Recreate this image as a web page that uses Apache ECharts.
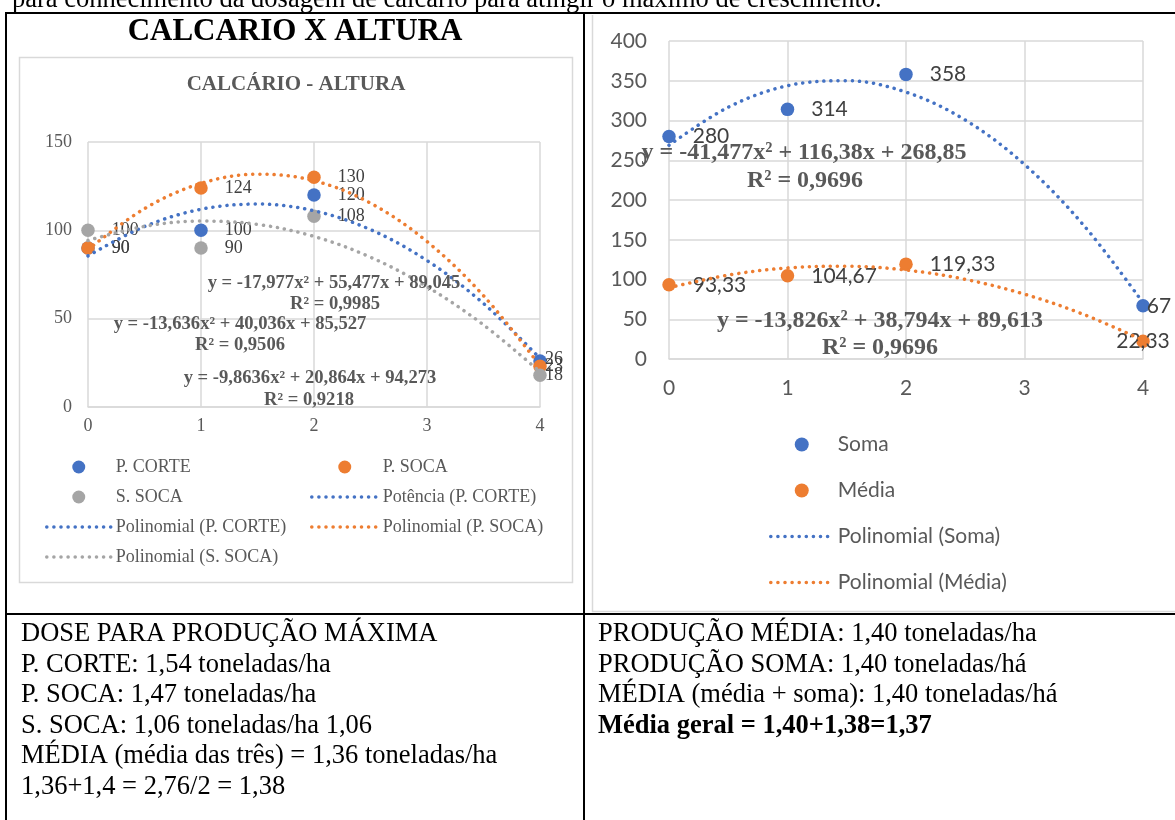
<!DOCTYPE html>
<html><head><meta charset="utf-8">
<script src="https://cdn.jsdelivr.net/npm/echarts@6/dist/echarts.min.js"></script>
<style>html,body{margin:0;padding:0;background:#fff;}#c{width:1175px;height:820px;}</style>
</head><body><div id="c"></div>
<script>
// ---------- data ----------
const doses = [0, 1, 2, 4];
const pCorte = [90, 100, 120, 26];
const pSoca = [90, 124, 130, 23];
const sSoca = [100, 90, 108, 18];
const soma = [280, 314, 358, 67];
const media = [93.33, 104.67, 119.33, 22.33];

// trend-line values read at x = 0, 0.5, ... 4
const trendX = [0, 0.5, 1, 1.5, 2, 2.5, 3, 3.5, 4];
const trendPCorte = [85.53, 102.14, 111.93, 114.90, 111.06, 100.39, 82.91, 58.61, 27.50];
const trendPSoca = [89.05, 112.29, 126.55, 131.81, 128.09, 115.38, 93.68, 63.00, 23.32];
const trendSSoca = [94.27, 102.24, 105.27, 103.38, 96.55, 84.79, 68.09, 46.47, 19.91];
const trendSoma = [268.85, 316.67, 343.75, 350.10, 335.70, 300.57, 244.70, 168.09, 70.74];
const trendMedia = [89.61, 105.55, 114.58, 116.70, 111.90, 100.19, 81.56, 56.02, 23.57];

const xTicks = [0, 1, 2, 3, 4];
const yTicksLeft = [0, 50, 100, 150];
const yTicksRight = [0, 50, 100, 150, 200, 250, 300, 350, 400];

const eqLeft = ['y = -17,977x² + 55,477x + 89,045', 'R² = 0,9985',
                'y = -13,636x² + 40,036x + 85,527', 'R² = 0,9506',
                'y = -9,8636x² + 20,864x + 94,273', 'R² = 0,9218'];
const eqRight = ['y = -41,477x² + 116,38x + 268,85', 'R² = 0,9696',
                 'y = -13,826x² + 38,794x + 89,613', 'R² = 0,9696'];

const topLine = 'para conhecimento da dosagem de calcário para atingir o máximo de crescimento.';
const leftTitle = 'CALCARIO X ALTURA';
const leftSubtitle = 'CALCÁRIO - ALTURA';
const leftNotes = ['DOSE PARA PRODUÇÃO MÁXIMA', 'P. CORTE: 1,54 toneladas/ha', 'P. SOCA: 1,47 toneladas/ha',
  'S. SOCA: 1,06 toneladas/ha 1,06', 'MÉDIA (média das três) = 1,36 toneladas/ha', '1,36+1,4 = 2,76/2 = 1,38'];
const rightNotes = ['PRODUÇÃO MÉDIA: 1,40 toneladas/ha', 'PRODUÇÃO SOMA: 1,40 toneladas/há',
  'MÉDIA (média + soma): 1,40 toneladas/há', 'Média geral = 1,40+1,38=1,37'];

// ---------- style ----------
const BLUE = '#4472C4', ORANGE = '#ED7D31', GRAY = '#A5A5A5';
const SERIF = '"Liberation Serif", "Times New Roman", serif';
const SANS = 'Lato, "Open Sans", sans-serif';
const GRID = '#d9d9d9';

function pts(xs, ys, lastLabel) {
  return xs.map((x, i) => {
    const item = { value: [x, ys[i]] };
    if (lastLabel && i === xs.length - 1) item.label = lastLabel;
    return item;
  });
}
const fmt = p => String(p.value[1]).replace('.', ',');

function scatter(name, xs, ys, color, axis, font, size, lastLabel) {
  return {
    type: 'scatter', name, xAxisIndex: axis, yAxisIndex: axis,
    data: pts(xs, ys, lastLabel), symbolSize: 13.5,
    itemStyle: { color, opacity: 1 },
    label: { show: true, position: 'right', distance: 17, formatter: fmt,
      fontFamily: font, fontSize: size, color: '#404040' },
    z: 3
  };
}
function trend(name, xs, ys, color, axis) {
  return {
    type: 'line', name, xAxisIndex: axis, yAxisIndex: axis,
    data: ys.length ? xs.map((x, i) => [x, ys[i]]) : [],
    smooth: 0.35, symbol: 'none', showSymbol: false,
    lineStyle: { color, width: 3.5, type: [0.1, 7], cap: 'round' },
    itemStyle: { color, opacity: 0 },
    z: 4, silent: true
  };
}

const axisLblL = { fontFamily: SERIF, fontSize: 18, color: '#595959' };
const axisLblR = { fontFamily: SANS, fontSize: 21, color: '#595959' };
const legendLine = { width: 3.5, cap: 'round', type: [0.1, 7] };

const graphics = [];
function txt(text, x, y, font, size, weight, color, align) {
  graphics.push({ type: 'text', x, y, z: 10,
    style: { text, fontFamily: font, fontSize: size, fontWeight: weight, fill: color,
      align: align || 'left', verticalAlign: 'middle' } });
}
function line(x1, y1, x2, y2, color, w) {
  graphics.push({ type: 'line', z: 1, silent: true,
    shape: { x1, y1, x2, y2 }, style: { stroke: color, lineWidth: w } });
}

// document text
txt(topLine, 12, 0.5, SERIF, 26.5, 'normal', '#000');
// table borders
line(5, 13, 1175, 13, '#000', 2);
line(6, 12, 6, 820, '#000', 2);
line(584, 12, 584, 820, '#000', 2);
line(5, 614, 1175, 614, '#000', 2);
// chart boxes
graphics.push({ type: 'rect', z: 0, silent: true, shape: { x: 19.5, y: 57.5, width: 553, height: 525 },
  style: { fill: 'none', stroke: GRID, lineWidth: 1.5 } });
line(592.5, 15, 592.5, 612, GRID, 1.5);
line(592, 611.5, 1175, 611.5, GRID, 1.5);
// titles
txt(leftTitle, 295, 32, SERIF, 31, 'bold', '#000', 'center');
txt(leftSubtitle, 296, 85, SERIF, 21, 'bold', '#595959', 'center');
// equations
const eqLPos = [[334, 283], [335, 304], [240, 324], [240, 345], [310, 378], [309, 400]];
eqLeft.forEach((t, i) => txt(t, eqLPos[i][0], eqLPos[i][1], SERIF, 18.6, 'bold', '#595959', 'center'));
const eqRPos = [[804, 153], [805, 181], [880, 321], [880, 348]];
eqRight.forEach((t, i) => txt(t, eqRPos[i][0], eqRPos[i][1], SERIF, 24, 'bold', '#595959', 'center'));
// notes
leftNotes.forEach((t, i) => txt(t, 21, 634 + i * 30.6, SERIF, 26.5, 'normal', '#000'));
rightNotes.forEach((t, i) => txt(t, 598, 634 + i * 30.6, SERIF, 26.5, i === 3 ? 'bold' : 'normal', '#000'));

const chart = echarts.init(document.getElementById('c'), null, { renderer: 'canvas' });
chart.setOption({
  animation: false,
  backgroundColor: '#fff',
  grid: [
    { left: 88, right: 635, top: 142, bottom: 413, outerBoundsMode: 'none', containLabel: false },
    { left: 669, right: 32, top: 41, bottom: 461, outerBoundsMode: 'none', containLabel: false }
  ],
  xAxis: [
    { gridIndex: 0, type: 'value', min: xTicks[0], max: xTicks[xTicks.length - 1], interval: 1,
      axisLine: { show: true, lineStyle: { color: GRID, width: 1.5 } }, axisTick: { show: false },
      splitLine: { show: true, lineStyle: { color: GRID, width: 1.5 } },
      axisLabel: Object.assign({ margin: 10 }, axisLblL) },
    { gridIndex: 1, type: 'value', min: xTicks[0], max: xTicks[xTicks.length - 1], interval: 1,
      axisLine: { show: true, lineStyle: { color: GRID, width: 1.5 } }, axisTick: { show: false },
      splitLine: { show: true, lineStyle: { color: GRID, width: 1.5 } },
      axisLabel: Object.assign({ margin: 19 }, axisLblR) }
  ],
  yAxis: [
    { gridIndex: 0, type: 'value', min: yTicksLeft[0], max: yTicksLeft[yTicksLeft.length - 1], interval: 50,
      axisLine: { show: false }, axisTick: { show: false },
      splitLine: { show: true, lineStyle: { color: GRID, width: 1.5 } },
      axisLabel: Object.assign({ margin: 16 }, axisLblL) },
    { gridIndex: 1, type: 'value', min: yTicksRight[0], max: yTicksRight[yTicksRight.length - 1], interval: 50,
      axisLine: { show: false }, axisTick: { show: false },
      splitLine: { show: true, lineStyle: { color: GRID, width: 1.5 } },
      axisLabel: Object.assign({ margin: 22 }, axisLblR) }
  ],
  legend: [
    { left: 40, top: 453, orient: 'vertical', itemWidth: 64, itemHeight: 13, itemGap: 12,
      selectedMode: false, lineStyle: legendLine,
      textStyle: { fontFamily: SERIF, fontSize: 18, color: '#595959' },
      data: [{ name: 'P. CORTE', icon: 'circle' }, { name: 'S. SOCA', icon: 'circle' },
             'Polinomial (P. CORTE)', 'Polinomial (S. SOCA)'] },
    { left: 305, top: 453, orient: 'vertical', itemWidth: 66, itemHeight: 13, itemGap: 12,
      selectedMode: false, lineStyle: legendLine,
      textStyle: { fontFamily: SERIF, fontSize: 18, color: '#595959' },
      data: [{ name: 'P. SOCA', icon: 'circle' }, 'Potência (P. CORTE)', 'Polinomial (P. SOCA)'] },
    { left: 764, top: 429, orient: 'vertical', itemWidth: 62, itemHeight: 14, itemGap: 25,
      selectedMode: false, lineStyle: legendLine,
      textStyle: { fontFamily: SANS, fontSize: 21, color: '#595959' },
      data: [{ name: 'Soma', icon: 'circle' }, { name: 'Média', icon: 'circle' },
             'Polinomial (Soma)', 'Polinomial (Média)'] }
  ],
  graphic: graphics,
  series: [
    scatter('P. CORTE', doses, pCorte, BLUE, 0, SERIF, 18, { position: 'inside', offset: [14, -2] }),
    scatter('P. SOCA', doses, pSoca, ORANGE, 0, SERIF, 18, { position: 'inside', offset: [14, 0] }),
    scatter('S. SOCA', doses, sSoca, GRAY, 0, SERIF, 18, { position: 'inside', offset: [14, 0] }),
    trend('Potência (P. CORTE)', trendX, [], BLUE, 0),
    trend('Polinomial (P. CORTE)', trendX, trendPCorte, BLUE, 0),
    trend('Polinomial (P. SOCA)', trendX, trendPSoca, ORANGE, 0),
    trend('Polinomial (S. SOCA)', trendX, trendSSoca, GRAY, 0),
    scatter('Soma', doses, soma, BLUE, 1, SANS, 21, { position: 'inside', offset: [16, 0] }),
    scatter('Média', doses, media, ORANGE, 1, SANS, 21, { position: 'inside', offset: [0, 0] }),
    trend('Polinomial (Soma)', trendX, trendSoma, BLUE, 1),
    trend('Polinomial (Média)', trendX, trendMedia, ORANGE, 1)
  ]
});
</script>
</body></html>
